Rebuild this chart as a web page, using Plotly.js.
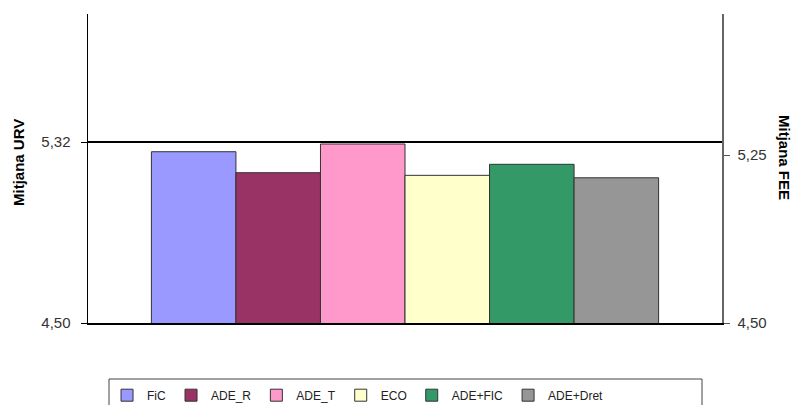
<!DOCTYPE html>
<html>
<head>
<meta charset="utf-8">
<script src="https://cdn.plot.ly/plotly-3.0.1.min.js"></script>
<style>html,body{margin:0;padding:0;background:#fff}#chart{width:797px;height:405px}</style>
</head>
<body>
<div id="chart"></div>
<script>
// Data
var categories = ["FiC", "ADE_R", "ADE_T", "ECO", "ADE+FIC", "ADE+Dret"];
var values = [5.276, 5.181, 5.311, 5.169, 5.219, 5.158];
var colors = ["#9999FF", "#993366", "#FF99CC", "#FFFFCC", "#339966", "#969696"];
var urvMean = 5.32;
var leftTicks = [4.50, 5.32];
var leftTickText = ["4,50", "5,32"];
var rightTicks = [4.50, 5.25];
var rightTickText = ["4,50", "5,25"];

var traces = categories.map(function (c, i) {
  return {
    type: "bar",
    name: c,
    x: [""],
    y: [values[i]],
    marker: {color: colors[i], line: {color: "#333333", width: 1}},
    hoverinfo: "name+y"
  };
});
// invisible trace to activate the right axis
traces.push({type: "scatter", mode: "lines", x: [""], y: [4.5], yaxis: "y2",
  showlegend: false, hoverinfo: "skip", line: {width: 0}});

var layout = {
  width: 797, height: 405,
  margin: {l: 88, r: 75, t: 14, b: 82, autoexpand: false},
  paper_bgcolor: "#fff", plot_bgcolor: "#fff",
  font: {family: "Liberation Sans, Arial, sans-serif", size: 12, color: "#222"},
  separators: ",.",
  barmode: "group", bargap: 0.2, bargroupgap: 0,
  showlegend: true,
  legend: {orientation: "h", x: 0.03, xanchor: "left", yref: "container", y: 0.06, yanchor: "top",
    font: {size: 12, color: "#222"}, borderwidth: 0, bgcolor: "rgba(0,0,0,0)",
    traceorder: "normal"},
  xaxis: {type: "category", showline: true, linecolor: "#000", linewidth: 2,
    showticklabels: false, ticks: "", showgrid: false, zeroline: false, fixedrange: true},
  yaxis: {range: [4.5, 5.9], tickvals: leftTicks, ticktext: leftTickText,
    ticks: "outside", ticklen: 6, tickcolor: "#000", showline: true, linecolor: "#000",
    linewidth: 1.5, showgrid: false, zeroline: false, ticklabelstandoff: 7,
    tickfont: {size: 15, color: "#333"}},
  yaxis2: {overlaying: "y", side: "right", range: [4.5, 5.88], tickvals: rightTicks,
    ticktext: rightTickText, ticks: "outside", ticklen: 6, tickcolor: "#555",
    showline: true, linecolor: "#666", linewidth: 1.5, showgrid: false, zeroline: false,
    ticklabelstandoff: 5, tickfont: {size: 15, color: "#333"}},
  shapes: [
    {type: "line", xref: "paper", x0: 0, x1: 1, yref: "y", y0: urvMean, y1: urvMean,
      line: {color: "#000", width: 2}, layer: "above"},
    {type: "rect", xref: "paper", yref: "paper", x0: (109 - 88) / 634, x1: (702 - 88) / 634,
      y0: -0.3, y1: (323 - 379) / 309, line: {color: "#444", width: 1}, layer: "below"}
  ],
  annotations: [
    {text: "<b>Mitjana URV</b>", xref: "paper", yref: "paper", x: (18 - 88) / 634,
      y: (323 - 163) / 309, textangle: -90, showarrow: false,
      font: {size: 15, color: "#000"}, xanchor: "center", yanchor: "middle"},
    {text: "<b>Mitjana FEE</b>", xref: "paper", yref: "paper", x: (785 - 88) / 634,
      y: (323 - 157) / 309, textangle: 90, showarrow: false,
      font: {size: 15, color: "#000"}, xanchor: "center", yanchor: "middle"}
  ]
};

Plotly.newPlot("chart", traces, layout, {displayModeBar: false, staticPlot: true});
</script>
</body>
</html>
